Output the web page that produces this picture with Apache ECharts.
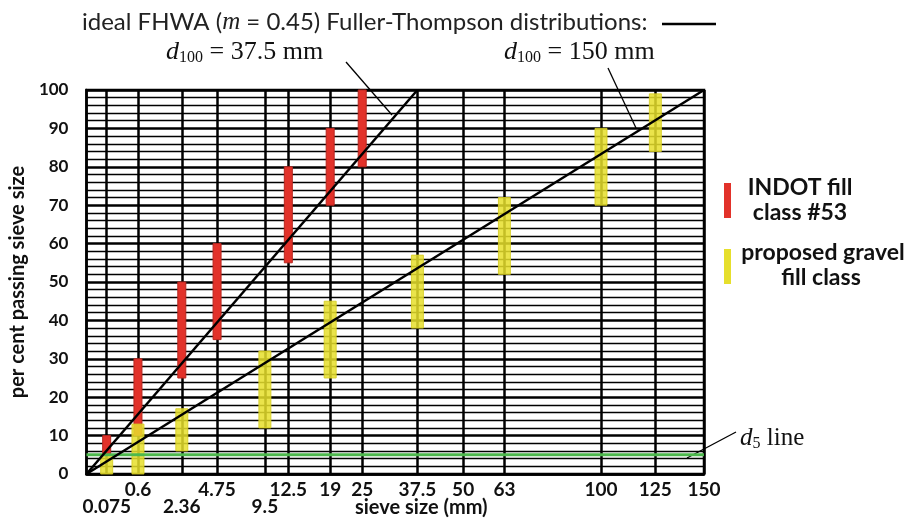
<!DOCTYPE html>
<html>
<head>
<meta charset="utf-8">
<title>Fuller-Thompson gradation</title>
<script src="https://cdn.jsdelivr.net/npm/echarts@6/dist/echarts.min.js"></script>
<style>
  html, body { margin: 0; padding: 0; background: #fff; }
  #chart { width: 908px; height: 518px; }
</style>
</head>
<body>
<div id="chart"></div>
<script>
// FHWA exponent, x axis is drawn as d^m
var M = 0.45

// sieve sizes (mm) that get a grid line and a label
var sieves = [0.075, 0.6, 2.36, 4.75, 9.5, 12.5, 19, 25, 37.5, 50, 63, 100, 125, 150]
// these labels sit on the second row
var lowRowSieves = [0.075, 2.36, 9.5]

// INDOT fill class #53 (per cent passing, low / high)
var indotSieves = [0.075, 0.6, 2.36, 4.75, 12.5, 19, 25]
var indotLow = [5, 10, 25, 35, 55, 70, 80]
var indotHigh = [10, 30, 50, 60, 80, 90, 100]

// proposed gravel fill class
var gravelSieves = [0.075, 0.6, 2.36, 9.5, 19, 37.5, 63, 100, 125]
var gravelLow = [0, 0, 6, 12, 25, 38, 52, 70, 84]
var gravelHigh = [5, 13, 17, 32, 45, 57, 72, 90, 99]

// ideal curves: maximum size d100 (mm)
var d100Sizes = [37.5, 150]
var d5Level = 5

function sx(d) {
  return Math.pow(d, M)
}

// back from axis value to the sieve it came from
function sieveLabel(v) {
  var s = ''
  sieves.forEach(function(d) {
    if (Math.abs(sx(d) - v) < 1e-6) s = String(d)
  })
  return s
}

function rangeData(xs, lo, hi) {
  var res = []
  xs.forEach(function(d, i) {
    res.push([sx(d), lo[i], hi[i]])
  })
  return res
}

function rangeBar(width, fill, stroke, opacity) {
  return function(params, api) {
    var top = api.coord([api.value(0), api.value(2)])
    var bot = api.coord([api.value(0), api.value(1)])
    return {
      type: 'rect',
      shape: { x: top[0] - width / 2, y: top[1], width: width, height: bot[1] - top[1] },
      style: { fill: fill, stroke: stroke, lineWidth: 1, opacity: opacity }
    }
  }
}

function boldText(x, y, text, size, align) {
  return {
    type: 'text', x: x, y: y,
    style: {
      text: text, fontFamily: 'Lato', fontWeight: 'bold', fontSize: size,
      fill: '#111', align: align || 'center', verticalAlign: 'middle'
    }
  }
}

function dLabel(x, y, sub, rest, size) {
  return {
    type: 'text', x: x, y: y,
    style: {
      text: '{d|d}{s|' + sub + '}{n|' + rest + '}',
      verticalAlign: 'middle',
      rich: {
        d: { fontFamily: 'Liberation Serif', fontStyle: 'italic', fontSize: size, fill: '#111' },
        s: { fontFamily: 'Liberation Serif', fontSize: Math.round(size * 0.62), fill: '#111', padding: [Math.round(size * 0.45), 0, 0, 0] },
        n: { fontFamily: 'Liberation Serif', fontSize: size, fill: '#111' }
      }
    }
  }
}

var xMax = sx(sieves[sieves.length - 1])
var sieveTicks = sieves.map(sx)
var topRowTicks = sieves.filter(function(d) { return lowRowSieves.indexOf(d) < 0 }).map(sx)
var lowRowTicks = lowRowSieves.map(sx)

var labelFont = { color: '#111', fontFamily: 'Lato', fontWeight: 'bold', fontSize: 19 }

var ftSeries = d100Sizes.map(function(d) {
  return {
    type: 'line',
    data: [[0, 0], [sx(d), 100]],
    symbol: 'none',
    z: 5,
    lineStyle: { color: '#000', width: 2.5 }
  }
})

var chart = echarts.init(document.getElementById('chart'))

var option = {
  animation: false,
  grid: {
    left: 82, right: 204, top: 90, bottom: 44,
    show: true, borderColor: '#000', borderWidth: 2.5
  },
  xAxis: [
    {
      type: 'value',
      min: 0,
      max: xMax,
      axisLine: { lineStyle: { color: '#000', width: 2.5 } },
      axisTick: { show: false, customValues: sieveTicks },
      splitLine: { show: true, lineStyle: { color: '#000', width: 2.5 } },
      axisLabel: Object.assign({
        customValues: topRowTicks,
        showMinLabel: true,
        showMaxLabel: true,
        margin: 6,
        formatter: sieveLabel
      }, labelFont)
    },
    {
      // second row of sieve labels
      type: 'value',
      position: 'bottom',
      min: 0,
      max: xMax,
      axisLine: { show: false },
      axisTick: { show: false, customValues: lowRowTicks },
      splitLine: { show: false },
      axisLabel: Object.assign({
        customValues: lowRowTicks,
        showMinLabel: true,
        showMaxLabel: true,
        margin: 23,
        formatter: sieveLabel
      }, labelFont)
    }
  ],
  yAxis: {
    type: 'value',
    min: 0,
    max: 100,
    interval: 10,
    name: 'per cent passing sieve size',
    nameLocation: 'middle',
    nameGap: 52,
    nameTextStyle: { color: '#111', fontFamily: 'Lato', fontWeight: 'bold', fontSize: 20 },
    axisLine: { show: true, lineStyle: { color: '#000', width: 2.5 } },
    axisTick: { show: false },
    axisLabel: { color: '#111', fontFamily: 'Lato', fontWeight: 'bold', fontSize: 17, margin: 18 },
    splitLine: { show: true, lineStyle: { color: '#000', width: 2.5 } },
    minorTick: { show: false, splitNumber: 5 },
    minorSplitLine: { show: true, lineStyle: { color: '#000', width: 1.3 } }
  },
  series: [
    {
      type: 'custom',
      renderItem: rangeBar(8, '#e2322a', '#b8261f', 1),
      encode: { x: 0, y: [1, 2] },
      data: rangeData(indotSieves, indotLow, indotHigh),
      z: 3
    },
    {
      type: 'custom',
      renderItem: rangeBar(12, '#e6df2c', '#d6cc22', 0.85),
      encode: { x: 0, y: [1, 2] },
      data: rangeData(gravelSieves, gravelLow, gravelHigh),
      z: 4
    },
    {
      type: 'line',
      data: [[0, d5Level], [xMax, d5Level]],
      symbol: 'none',
      z: 4,
      lineStyle: { color: '#4db84d', width: 3 }
    }
  ].concat(ftSeries),
  graphic: [
    {
      type: 'text', x: 82, y: 22,
      style: {
        text: '{n|ideal FHWA (}{m|m}{n| = 0.45) Fuller-Thompson distributions:}',
        verticalAlign: 'middle',
        rich: {
          n: { fontFamily: 'Lato', fontSize: 24, fill: '#222' },
          m: { fontFamily: 'Liberation Serif', fontStyle: 'italic', fontSize: 25, fill: '#222' }
        }
      }
    },
    { type: 'line', shape: { x1: 662, y1: 24, x2: 716, y2: 24 }, style: { stroke: '#000', lineWidth: 2.5 } },
    dLabel(166, 52, '100', ' = 37.5 mm', 26),
    dLabel(504, 52, '100', ' = 150 mm', 26),
    { type: 'line', shape: { x1: 346, y1: 62, x2: 392, y2: 115 }, style: { stroke: '#000', lineWidth: 1.3 } },
    { type: 'line', shape: { x1: 608, y1: 68, x2: 636, y2: 128 }, style: { stroke: '#000', lineWidth: 1.3 } },
    dLabel(740, 438, '5', ' line', 25),
    { type: 'line', shape: { x1: 687, y1: 458, x2: 736, y2: 432 }, style: { stroke: '#000', lineWidth: 1.3 } },
    // legend
    { type: 'rect', shape: { x: 724, y: 183, width: 7, height: 35 }, style: { fill: '#e2322a' } },
    boldText(800, 188, 'INDOT fill', 23),
    boldText(800, 213, 'class #53', 23),
    { type: 'rect', shape: { x: 724, y: 249, width: 7, height: 35 }, style: { fill: '#e6df2c' } },
    boldText(823, 253, 'proposed gravel', 23),
    boldText(821, 278, 'fill class', 23),
    boldText(355, 508, 'sieve size (mm)', 20, 'left')
  ]
}

chart.setOption(option)
</script>
</body>
</html>
